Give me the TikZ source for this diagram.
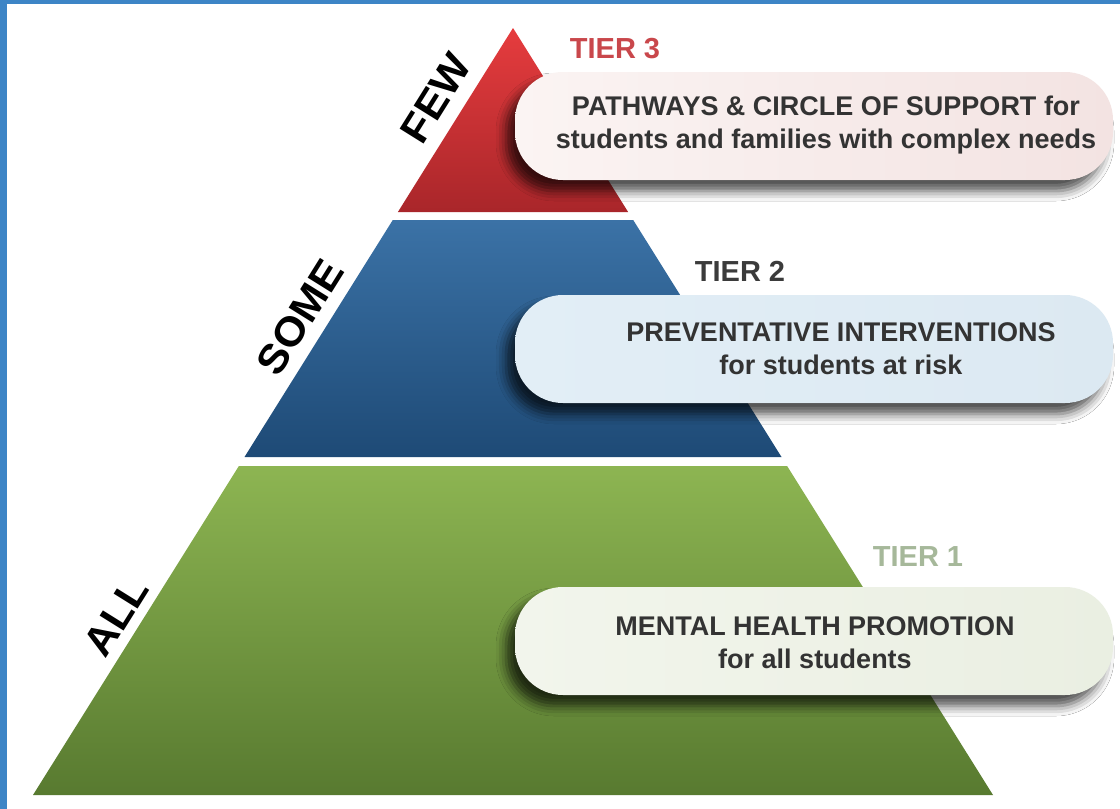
\documentclass[tikz,border=0pt]{standalone}
\usepackage{fontspec}
\setmainfont{Liberation Sans}
\newfontfamily\labfont[FakeStretch=1.05]{Liberation Sans}
\usetikzlibrary{shadows.blur}
\definecolor{frameblue}{HTML}{3D85C6}
\definecolor{redtop}{HTML}{E63C3E}
\definecolor{redbot}{HTML}{A9262A}
\definecolor{bluetop}{HTML}{3B72A6}
\definecolor{bluebot}{HTML}{1E4A76}
\definecolor{greentop}{HTML}{8DB552}
\definecolor{greenmid}{HTML}{88B04D}
\definecolor{greenbot}{HTML}{587A30}
\definecolor{txtgray}{HTML}{333333}
\definecolor{tierred}{HTML}{C9474B}
\definecolor{tierdark}{HTML}{3B3B3B}
\definecolor{tiergreen}{HTML}{A6B89A}
\definecolor{b3left}{HTML}{FBF4F3}
\definecolor{b3right}{HTML}{F3E3E2}
\definecolor{b2left}{HTML}{E2EEF6}
\definecolor{b2right}{HTML}{DCE9F2}
\definecolor{b1left}{HTML}{F2F5EC}
\definecolor{b1right}{HTML}{EAEFE2}
\tikzset{
  banner/.style={rectangle, rounded corners=48pt, minimum width=598pt, minimum height=108pt,
    blur shadow={shadow xshift=-9pt, shadow yshift=-11pt, shadow blur radius=10pt, shadow opacity=70}},
  bantext/.style={font=\bfseries\fontsize{27}{33}\selectfont, text=txtgray, align=center, inner sep=0pt},
  tierlab/.style={font=\bfseries\fontsize{29}{29}\selectfont, inner sep=0pt},
  sidelab/.style={font=\labfont\bfseries\fontsize{41}{41}\selectfont, rotate=58, inner sep=0pt},
}
\begin{document}
\begin{tikzpicture}[x=1pt,y=-1pt]
\useasboundingbox (0,0) rectangle (1120,809);
\fill[white] (0,0) rectangle (1120,809);
\fill[frameblue] (0,0) rectangle (1120,4);
\fill[frameblue] (0,0) rectangle (7,809);
% pyramid tiers
\shade[top color=greentop, middle color=greenmid, bottom color=greenbot]
  (238.9,466) -- (787.1,466) -- (993,795) -- (33,795) -- cycle;
\shade[top color=bluetop, bottom color=bluebot]
  (392.8,220) -- (633.2,220) -- (781.5,457) -- (244.5,457) -- cycle;
\shade[top color=redtop, bottom color=redbot]
  (513,28) -- (628.1,212) -- (397.9,212) -- cycle;
% side labels
\node[sidelab] (few) at (436,98) {FEW};
\node[sidelab] (some) at (300,317) {SOME};
\node[sidelab] (all) at (116,617) {ALL};
% tier labels
\node[tierlab, text=tierred] (tier3) at (615,49) {TIER 3};
\node[tierlab, text=tierdark] (tier2) at (740,271) {TIER 2};
\node[tierlab, text=tiergreen] (tier1) at (918,557) {TIER 1};
% banners
\node[banner, left color=b3left, right color=b3right] (ban3) at (814,126) {};
\node[banner, left color=b2left, right color=b2right] (ban2) at (814,349) {};
\node[banner, left color=b1left, right color=b1right] (ban1) at (814,641) {};
\node[bantext] (txt3) at (826,125) {PATHWAYS \& CIRCLE OF SUPPORT for\\students and families with complex needs};
\node[bantext] (txt2) at (841,349) {PREVENTATIVE INTERVENTIONS\\for students at risk};
\node[bantext] (txt1) at (815,643) {MENTAL HEALTH PROMOTION\\for all students};
\end{tikzpicture}
\end{document}
